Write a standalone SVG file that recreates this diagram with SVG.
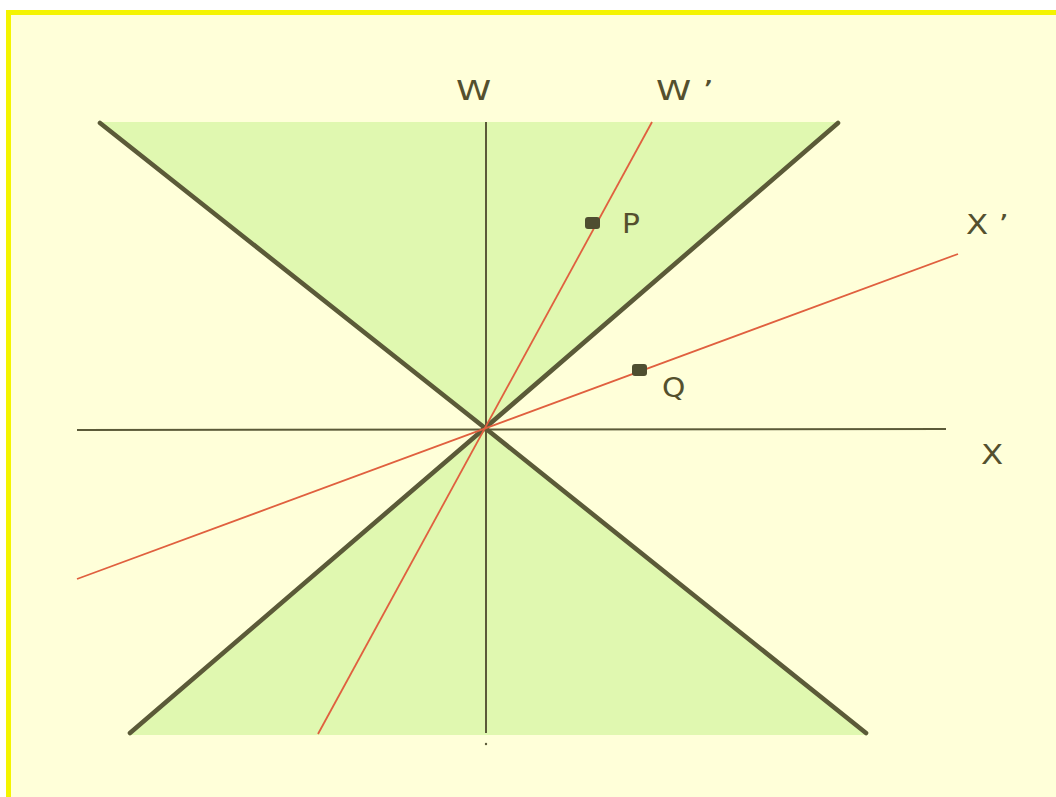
<svg xmlns="http://www.w3.org/2000/svg" width="1056" height="797" viewBox="0 0 1056 797">
<style>
.cone{stroke:#5b5a38;stroke-width:4.6;fill:none;stroke-linecap:round}
.axis{stroke:#5b5a38;stroke-width:2;fill:none}
.red{stroke:#e0603f;stroke-width:1.8;fill:none}
.lbl{font-family:"DejaVu Sans","Liberation Sans",sans-serif;font-size:27px;fill:#54502e}
.pt{fill:#4e4e30}
</style>
<rect x="0" y="0" width="1056" height="797" fill="#ffffff"/>
<rect x="8.5" y="12.5" width="1060" height="800" fill="#ffffd9" stroke="#f4f400" stroke-width="5"/>
<g id="cone-upper"><polygon points="98,122 840,122 485,428" fill="#e0f8b0"/></g>
<g id="cone-lower"><polygon points="485,428 128,735 868,735" fill="#e0f8b0"/></g>
<g id="connectors">
<line class="cone" x1="100" y1="123" x2="485" y2="428"/>
<line class="cone" x1="838" y1="123" x2="485" y2="428"/>
<line class="cone" x1="485" y1="428" x2="130" y2="733"/>
<line class="cone" x1="485" y1="428" x2="866" y2="733"/>
<line class="axis" x1="486" y1="122" x2="486" y2="733"/>
<line class="axis" x1="77" y1="430" x2="946" y2="429"/>
<line class="red" x1="652" y1="122" x2="318" y2="734"/>
<line class="red" x1="77" y1="579" x2="958" y2="254"/>
<circle cx="486" cy="744" r="1.2" fill="#5b5a38"/>
</g>
<g id="P"><rect class="pt" x="585" y="217" width="15" height="12" rx="3"/><text class="lbl" transform="translate(622,233) scale(1.1,1)">P</text></g>
<g id="Q"><rect class="pt" x="632" y="364" width="15" height="12" rx="3"/><text class="lbl" transform="translate(662,397) scale(1.1,1)">Q</text></g>
<g id="W"><text class="lbl" transform="translate(456,100) scale(1.32,1)">W</text></g>
<g id="Wp"><text class="lbl" transform="translate(656,100) scale(1.32,1)">W ’</text></g>
<g id="X"><text class="lbl" transform="translate(981,464) scale(1.2,1)">X</text></g>
<g id="Xp"><text class="lbl" transform="translate(966,234) scale(1.2,1)">X ’</text></g>
</svg>
